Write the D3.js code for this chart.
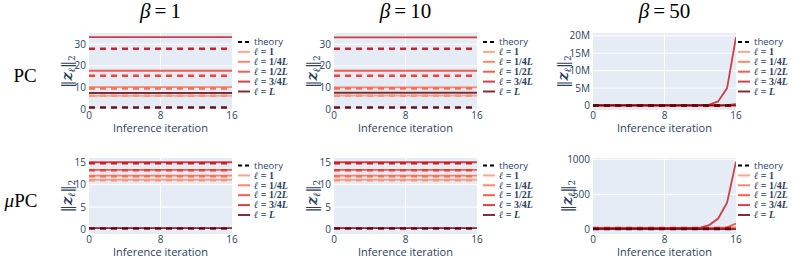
<!DOCTYPE html>
<html>
<head>
<meta charset="utf-8">
<script src="https://cdn.jsdelivr.net/npm/d3@7"></script>
<style>
  body { margin: 0; background: #fff; }
  svg { display: block; }
</style>
</head>
<body>
<svg width="793" height="259"></svg>
<script>
// iterations and labels
var iters = [0, 1, 2, 3, 4, 5, 6, 7, 8, 9, 10, 11, 12, 13, 14, 15, 16]
var layerNames = [["1", ""], ["1/4", "L"], ["1/2", "L"], ["3/4", "L"], ["", "L"]]
var layerColors = ["#fc9272", "#fb6a4a", "#ef3b2c", "#cb181d", "#67000d"]
var betas = ["1", "10", "50"]
var rowNames = ["PC", "μPC"]

// PC, flat values per layer (ℓ=1, 1/4L, 1/2L, 3/4L, L)
var pcSimB1 = [6.3, 10.3, 17.8, 33.2, 7.6]
var pcSimB10 = [6.4, 10.2, 17.8, 33.1, 7.7]
var pcTheory = [6.3, 9.7, 15.5, 27.9, 1.0]

// PC, beta = 50 (full series)
var pcSimB50 = [
    [6, 6, 6, 6, 6, 6, 6, 6, 6, 6, 6, 6, 6, 6, 6, 8, 20],
    [10, 10, 10, 10, 10, 10, 10, 10, 10, 10, 10, 11, 12, 14, 20, 60, 300],
    [18, 18, 18, 18, 18, 18, 18, 19, 20, 25, 40, 120, 600, 4000, 30000, 110000, 450000],
    [33, 34, 36, 40, 50, 80, 160, 400, 1200, 4000, 14000, 50000, 120000, 250000, 1150000, 5000000, 19600000],
    [8, 8, 8, 8, 8, 8, 8, 8, 8, 8, 8, 8, 9, 10, 12, 20, 60]
]

// muPC, flat values
var mupcSimB1 = [11.1, 12.0, 13.3, 15.0, 0.3]
var mupcSimB10 = [11.1, 12.0, 13.3, 15.0, 0.3]
var mupcTheory = [11.0, 11.9, 13.2, 14.8, 0.2]

// muPC, beta = 50
var mupcSimB50 = [
    [11, 11, 11, 11, 11, 11, 11, 11, 11, 11, 11, 11, 11, 11, 12, 14, 18],
    [12, 12, 12, 12, 12, 12, 12, 12, 12, 12, 12, 12, 12, 13, 14, 17, 24],
    [13, 13, 13, 13, 13, 13, 13, 13, 13, 13, 13, 13, 14, 15, 17, 24, 80],
    [15, 15, 15, 15, 15, 15, 15, 15, 15, 16, 17, 18, 22, 58, 152, 378, 968],
    [0.3, 0.3, 0.3, 0.3, 0.3, 0.3, 0.3, 0.3, 0.3, 0.3, 0.3, 0.3, 0.3, 0.3, 0.3, 0.4, 0.5]
]

var yTicksPC = [0, 10, 20, 30]
var yTicksPC50 = [0, 5e6, 10e6, 15e6, 20e6]
var yTicksMu = [0, 5, 10, 15]
var yTicksMu50 = [0, 500, 1000]
var xTicks = [0, 8, 16]

var svg = d3.select("svg")
var ink = "#2a3f5f"

var colX = [89, 334, 593], plotW = 143
var rowY = [33, 158], plotH = [77, 76]
var legX = [238, 483, 738]
var legY = [42, 165.5]

var panels = [
    {r: 0, c: 0, sim: pcSimB1, th: pcTheory, dom: [-0.2, 35.1], ticks: yTicksPC},
    {r: 0, c: 1, sim: pcSimB10, th: pcTheory, dom: [-0.2, 35.1], ticks: yTicksPC},
    {r: 0, c: 2, sim: pcSimB50, th: pcTheory, dom: [-1.3e6, 20.8e6], ticks: yTicksPC50, big: true},
    {r: 1, c: 0, sim: mupcSimB1, th: mupcTheory, dom: [-1, 15.95], ticks: yTicksMu},
    {r: 1, c: 1, sim: mupcSimB10, th: mupcTheory, dom: [-1, 15.95], ticks: yTicksMu},
    {r: 1, c: 2, sim: mupcSimB50, th: mupcTheory, dom: [-70, 1020], ticks: yTicksMu50, wide: true}
]

function series(v) {
    // flat value -> constant line across the iterations
    return Array.isArray(v) ? v.map((d, i) => [iters[i], d]) : [[iters[0], v], [iters[iters.length - 1], v]]
}

panels.forEach(function (p) {
    var x0 = colX[p.c], y0 = rowY[p.r], h = plotH[p.r]
    var sx = d3.scaleLinear().domain([0, 16]).range([x0, x0 + plotW])
    var sy = d3.scaleLinear().domain(p.dom).range([y0 + h, y0])
    var g = svg.append("g")

    g.append("rect").attr("x", x0).attr("y", y0).attr("width", plotW).attr("height", h)
        .attr("fill", "#e5ecf6")

    g.selectAll(".gy").data(p.ticks).enter().append("line")
        .attr("x1", x0).attr("x2", x0 + plotW)
        .attr("y1", d => sy(d)).attr("y2", d => sy(d))
        .attr("stroke", "#fff").attr("stroke-width", 1)
    g.selectAll(".gx").data([8]).enter().append("line")
        .attr("x1", d => sx(d)).attr("x2", d => sx(d))
        .attr("y1", y0).attr("y2", y0 + h)
        .attr("stroke", "#fff").attr("stroke-width", 1)

    // y tick labels
    var fmt = p.big ? (d => d === 0 ? "0" : (d / 1e6) + "M") : (d => d)
    g.selectAll(".ty").data(p.ticks).enter().append("text")
        .attr("x", x0 - 3).attr("y", d => sy(d) + 3.5)
        .attr("text-anchor", "end").attr("font-family", "Open Sans").attr("font-size", 10)
        .attr("fill", ink).text(fmt)
    g.selectAll(".tx").data(xTicks).enter().append("text")
        .attr("x", d => sx(d)).attr("y", y0 + h + 8.5)
        .attr("text-anchor", "middle").attr("font-family", "Open Sans").attr("font-size", 10)
        .attr("fill", ink).text(d => d)

    g.append("text").attr("x", x0 + plotW / 2).attr("y", y0 + h + 21.5)
        .attr("text-anchor", "middle").attr("font-family", "Open Sans").attr("font-size", 11)
        .attr("fill", ink).text("Inference iteration")

    // y axis title ||z_l||_2
    var off = p.big ? 31 : (p.wide ? 27 : 23)
    var yt = g.append("text")
        .attr("transform", "translate(" + (x0 - off + 5.5) + "," + (y0 + h / 2) + ") rotate(-90)")
        .attr("text-anchor", "middle").attr("font-family", "DejaVu Serif").attr("font-size", 14.5)
        .attr("fill", ink)
    yt.append("tspan").text("‖")
    yt.append("tspan").attr("font-weight", "bold").attr("font-style", "italic").text("z")
    yt.append("tspan").attr("font-size", 10).attr("dy", 3).attr("font-style", "italic").attr("font-weight", "bold").text("ℓ")
    yt.append("tspan").attr("dy", -3).text("‖")
    yt.append("tspan").attr("font-size", 8.5).attr("dy", 3).text("2")

    var line = d3.line().x(d => sx(d[0])).y(d => sy(d[1]))
    var clipId = "clip" + p.r + p.c
    g.append("clipPath").attr("id", clipId).append("rect")
        .attr("x", x0).attr("y", y0).attr("width", plotW).attr("height", h)
    var lines = g.append("g").attr("clip-path", "url(#" + clipId + ")")

    layerColors.forEach(function (col, i) {
        lines.append("path").datum(series(p.sim[i])).attr("d", line)
            .attr("fill", "none").attr("stroke", col).attr("stroke-width", 1.8)
            .attr("stroke-opacity", 0.82)
        lines.append("path").datum(series(p.th[i])).attr("d", line)
            .attr("fill", "none").attr("stroke", col).attr("stroke-width", 2.5)
            .attr("stroke-dasharray", "6,5").attr("stroke-opacity", 0.95)
    })

    // legend
    var lx = legX[p.c], ly = legY[p.r], step = 9.9
    var lg = g.append("g")
    lg.append("line").attr("x1", lx).attr("x2", lx + 12).attr("y1", ly).attr("y2", ly)
        .attr("stroke", "#000").attr("stroke-width", 2).attr("stroke-dasharray", "4,3")
    lg.append("text").attr("x", lx + 16).attr("y", ly + 3.2)
        .attr("font-family", "Open Sans").attr("font-size", 9.5).attr("fill", ink).text("theory")
    layerNames.forEach(function (nm, i) {
        var yy = ly + step * (i + 1)
        lg.append("line").attr("x1", lx).attr("x2", lx + 12).attr("y1", yy).attr("y2", yy)
            .attr("stroke", layerColors[i]).attr("stroke-width", 2).attr("stroke-opacity", 0.82)
        var t = lg.append("text").attr("x", lx + 16).attr("y", yy + 3.2)
            .attr("font-family", "Liberation Serif").attr("font-size", 10).attr("fill", ink)
            .attr("font-weight", "bold")
        t.append("tspan").attr("font-style", "italic").text("ℓ")
        t.append("tspan").text(" = " + nm[0])
        if (nm[1]) t.append("tspan").attr("font-style", "italic").text(nm[1])
    })
})

// column titles
betas.forEach(function (b, c) {
    var t = svg.append("text").attr("x", colX[c] + plotW / 2).attr("y", 18)
        .attr("text-anchor", "middle").attr("font-family", "Liberation Serif").attr("font-size", 21)
        .attr("fill", "#000")
    t.append("tspan").attr("font-style", "italic").text("β")
    t.append("tspan").attr("dx", 4).text("=")
    t.append("tspan").attr("dx", 4).text(b)
})

// row titles
svg.append("text").attr("x", 25).attr("y", 82).attr("text-anchor", "middle")
    .attr("font-family", "Liberation Serif").attr("font-size", 19).text(rowNames[0])
var mu = svg.append("text").attr("x", 21).attr("y", 207).attr("text-anchor", "middle")
    .attr("font-family", "Liberation Serif").attr("font-size", 19)
mu.append("tspan").attr("font-style", "italic").text("μ")
mu.append("tspan").text("PC")
</script>
</body>
</html>
